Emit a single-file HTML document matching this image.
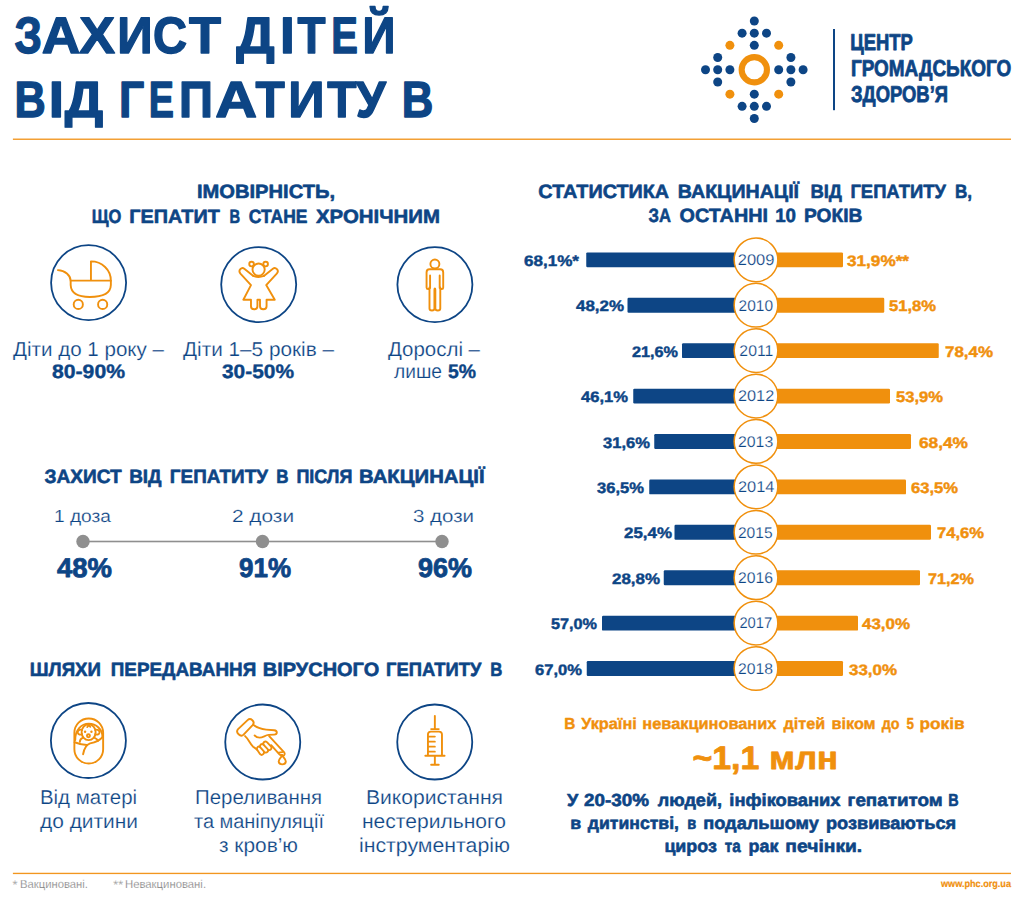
<!DOCTYPE html>
<html lang="uk"><head><meta charset="utf-8"><title>Захист дітей від гепатиту В</title>
<style>
html,body{margin:0;padding:0;background:#fff;}
body{width:1024px;height:897px;overflow:hidden;font-family:"Liberation Sans",sans-serif;}
svg{display:block;}
text{font-family:"Liberation Sans",sans-serif;white-space:pre;text-rendering:geometricPrecision;}
</style></head><body>
<svg width="1024" height="897" viewBox="0 0 1024 897">
<rect width="1024" height="897" fill="#fff"/>
<g id="title">
<text x="14.60" y="53.10" font-size="51.4" font-weight="bold" fill="#0d4585" textLength="27.47" lengthAdjust="spacingAndGlyphs" stroke="#0d4585" stroke-width="1.4" stroke-linejoin="round" id="t0">З</text>
<text x="41.77" y="53.10" font-size="51.4" font-weight="bold" fill="#0d4585" textLength="38.44" lengthAdjust="spacingAndGlyphs" stroke="#0d4585" stroke-width="1.4" stroke-linejoin="round" id="t1">А</text>
<text x="79.20" y="53.10" font-size="51.4" font-weight="bold" fill="#0d4585" textLength="35.81" lengthAdjust="spacingAndGlyphs" stroke="#0d4585" stroke-width="1.4" stroke-linejoin="round" id="t2">Х</text>
<text x="117.23" y="53.10" font-size="51.4" font-weight="bold" fill="#0d4585" textLength="35.38" lengthAdjust="spacingAndGlyphs" stroke="#0d4585" stroke-width="1.4" stroke-linejoin="round" id="t3">И</text>
<text x="152.92" y="53.10" font-size="51.4" font-weight="bold" fill="#0d4585" textLength="34.08" lengthAdjust="spacingAndGlyphs" stroke="#0d4585" stroke-width="1.4" stroke-linejoin="round" id="t4">С</text>
<text x="189.00" y="53.10" font-size="51.4" font-weight="bold" fill="#0d4585" textLength="32.01" lengthAdjust="spacingAndGlyphs" stroke="#0d4585" stroke-width="1.4" stroke-linejoin="round" id="t5">Т</text>
<text x="236.19" y="53.10" font-size="51.4" font-weight="bold" fill="#0d4585" textLength="38.41" lengthAdjust="spacingAndGlyphs" stroke="#0d4585" stroke-width="1.4" stroke-linejoin="round" id="t6">Д</text>
<text x="279.93" y="53.10" font-size="51.4" font-weight="bold" fill="#0d4585" textLength="14.76" lengthAdjust="spacingAndGlyphs" stroke="#0d4585" stroke-width="1.4" stroke-linejoin="round" id="t7">І</text>
<text x="297.39" y="53.10" font-size="51.4" font-weight="bold" fill="#0d4585" textLength="28.03" lengthAdjust="spacingAndGlyphs" stroke="#0d4585" stroke-width="1.4" stroke-linejoin="round" id="t8">Т</text>
<text x="331.19" y="53.10" font-size="51.4" font-weight="bold" fill="#0d4585" textLength="26.65" lengthAdjust="spacingAndGlyphs" stroke="#0d4585" stroke-width="1.4" stroke-linejoin="round" id="t9">Е</text>
<text x="362.41" y="53.10" font-size="51.4" font-weight="bold" fill="#0d4585" textLength="32.91" lengthAdjust="spacingAndGlyphs" stroke="#0d4585" stroke-width="1.4" stroke-linejoin="round" id="t10">Й</text>
<text x="14.39" y="117.20" font-size="51.0" font-weight="bold" fill="#0d4585" textLength="31.27" lengthAdjust="spacingAndGlyphs" stroke="#0d4585" stroke-width="1.4" stroke-linejoin="round" id="t11">В</text>
<text x="48.84" y="117.20" font-size="51.0" font-weight="bold" fill="#0d4585" textLength="15.25" lengthAdjust="spacingAndGlyphs" stroke="#0d4585" stroke-width="1.4" stroke-linejoin="round" id="t12">І</text>
<text x="64.77" y="117.20" font-size="51.0" font-weight="bold" fill="#0d4585" textLength="38.44" lengthAdjust="spacingAndGlyphs" stroke="#0d4585" stroke-width="1.4" stroke-linejoin="round" id="t13">Д</text>
<text x="119.04" y="117.20" font-size="51.0" font-weight="bold" fill="#0d4585" textLength="25.19" lengthAdjust="spacingAndGlyphs" stroke="#0d4585" stroke-width="1.4" stroke-linejoin="round" id="t14">Г</text>
<text x="148.68" y="117.20" font-size="51.0" font-weight="bold" fill="#0d4585" textLength="25.19" lengthAdjust="spacingAndGlyphs" stroke="#0d4585" stroke-width="1.4" stroke-linejoin="round" id="t15">Е</text>
<text x="178.90" y="117.20" font-size="51.0" font-weight="bold" fill="#0d4585" textLength="33.95" lengthAdjust="spacingAndGlyphs" stroke="#0d4585" stroke-width="1.4" stroke-linejoin="round" id="t16">П</text>
<text x="215.19" y="117.20" font-size="51.0" font-weight="bold" fill="#0d4585" textLength="41.85" lengthAdjust="spacingAndGlyphs" stroke="#0d4585" stroke-width="1.4" stroke-linejoin="round" id="t17">А</text>
<text x="255.59" y="117.20" font-size="51.0" font-weight="bold" fill="#0d4585" textLength="29.24" lengthAdjust="spacingAndGlyphs" stroke="#0d4585" stroke-width="1.4" stroke-linejoin="round" id="t18">Т</text>
<text x="288.27" y="117.20" font-size="51.0" font-weight="bold" fill="#0d4585" textLength="36.29" lengthAdjust="spacingAndGlyphs" stroke="#0d4585" stroke-width="1.4" stroke-linejoin="round" id="t19">И</text>
<text x="327.17" y="117.20" font-size="51.0" font-weight="bold" fill="#0d4585" textLength="29.24" lengthAdjust="spacingAndGlyphs" stroke="#0d4585" stroke-width="1.4" stroke-linejoin="round" id="t20">Т</text>
<text x="355.76" y="117.20" font-size="51.0" font-weight="bold" fill="#0d4585" textLength="30.12" lengthAdjust="spacingAndGlyphs" stroke="#0d4585" stroke-width="1.4" stroke-linejoin="round" id="t21">У</text>
<text x="401.77" y="117.20" font-size="51.0" font-weight="bold" fill="#0d4585" textLength="31.60" lengthAdjust="spacingAndGlyphs" stroke="#0d4585" stroke-width="1.4" stroke-linejoin="round" id="t22">В</text>
</g>
<rect x="12.9" y="138.55" width="998.1" height="1.35" fill="#f2961f"/>
<rect x="12.9" y="872.75" width="998.1" height="1.35" fill="#f2961f"/>
<g id="logo">
<circle cx="705.50" cy="69.75" r="4.5" fill="#0d4585"/>
<circle cx="717.70" cy="57.55" r="4.5" fill="#0d4585"/>
<circle cx="717.70" cy="69.75" r="4.5" fill="#0d4585"/>
<circle cx="717.70" cy="81.95" r="4.5" fill="#0d4585"/>
<circle cx="729.90" cy="69.75" r="4.5" fill="#0d4585"/>
<circle cx="742.10" cy="33.15" r="4.5" fill="#0d4585"/>
<circle cx="742.10" cy="106.35" r="4.5" fill="#0d4585"/>
<circle cx="754.30" cy="20.95" r="4.5" fill="#0d4585"/>
<circle cx="754.30" cy="33.15" r="4.5" fill="#0d4585"/>
<circle cx="754.30" cy="45.35" r="4.5" fill="#0d4585"/>
<circle cx="754.30" cy="94.15" r="4.5" fill="#0d4585"/>
<circle cx="754.30" cy="106.35" r="4.5" fill="#0d4585"/>
<circle cx="754.30" cy="118.55" r="4.5" fill="#0d4585"/>
<circle cx="766.50" cy="33.15" r="4.5" fill="#0d4585"/>
<circle cx="766.50" cy="106.35" r="4.5" fill="#0d4585"/>
<circle cx="778.70" cy="69.75" r="4.5" fill="#0d4585"/>
<circle cx="790.90" cy="57.55" r="4.5" fill="#0d4585"/>
<circle cx="790.90" cy="69.75" r="4.5" fill="#0d4585"/>
<circle cx="790.90" cy="81.95" r="4.5" fill="#0d4585"/>
<circle cx="803.10" cy="69.75" r="4.5" fill="#0d4585"/>
<circle cx="729.90" cy="45.35" r="4.5" fill="#f0900d"/>
<circle cx="778.70" cy="45.35" r="4.5" fill="#f0900d"/>
<circle cx="729.90" cy="94.15" r="4.5" fill="#f0900d"/>
<circle cx="778.70" cy="94.15" r="4.5" fill="#f0900d"/>
<circle cx="754.3" cy="69.75" r="12.65" fill="none" stroke="#f0900d" stroke-width="6.1"/>
<rect x="833" y="29" width="2" height="81.2" fill="#0d4585"/>
<text x="850.19" y="50.20" font-size="23.0" font-weight="bold" fill="#0d4585" textLength="62.61" lengthAdjust="spacingAndGlyphs" stroke="#0d4585" stroke-width="0.8" stroke-linejoin="round" id="t23">ЦЕНТР</text>
<text x="851.00" y="75.80" font-size="23.0" font-weight="bold" fill="#0d4585" textLength="160.20" lengthAdjust="spacingAndGlyphs" stroke="#0d4585" stroke-width="0.8" stroke-linejoin="round" id="t24">ГРОМАДСЬКОГО</text>
<text x="851.00" y="102.00" font-size="23.0" font-weight="bold" fill="#0d4585" textLength="97.01" lengthAdjust="spacingAndGlyphs" stroke="#0d4585" stroke-width="0.8" stroke-linejoin="round" id="t25">ЗДОРОВ’Я</text>
</g>
<g id="sec1">
<text x="196.99" y="197.80" font-size="19.3" font-weight="bold" fill="#0d4585" textLength="138.03" lengthAdjust="spacingAndGlyphs" stroke="#0d4585" stroke-width="0.6" stroke-linejoin="round" id="t26">ІМОВІРНІСТЬ,</text>
<text x="91.77" y="222.60" font-size="19.3" font-weight="bold" fill="#0d4585" textLength="29.64" lengthAdjust="spacingAndGlyphs" stroke="#0d4585" stroke-width="0.6" stroke-linejoin="round" id="t27">ЩО</text>
<text x="129.19" y="222.60" font-size="19.3" font-weight="bold" fill="#0d4585" textLength="90.61" lengthAdjust="spacingAndGlyphs" stroke="#0d4585" stroke-width="0.6" stroke-linejoin="round" id="t28">ГЕПАТИТ</text>
<text x="229.59" y="222.60" font-size="19.3" font-weight="bold" fill="#0d4585" textLength="10.63" lengthAdjust="spacingAndGlyphs" stroke="#0d4585" stroke-width="0.6" stroke-linejoin="round" id="t29">В</text>
<text x="248.79" y="222.60" font-size="19.3" font-weight="bold" fill="#0d4585" textLength="58.62" lengthAdjust="spacingAndGlyphs" stroke="#0d4585" stroke-width="0.6" stroke-linejoin="round" id="t30">СТАНЕ</text>
<text x="316.00" y="222.60" font-size="19.3" font-weight="bold" fill="#0d4585" textLength="124.00" lengthAdjust="spacingAndGlyphs" stroke="#0d4585" stroke-width="0.6" stroke-linejoin="round" id="t31">ХРОНІЧНИМ</text>
<circle cx="88.6" cy="282.7" r="37.5" fill="none" stroke="#0d4585" stroke-width="1.8"/>
<circle cx="258.7" cy="284.6" r="37.5" fill="none" stroke="#0d4585" stroke-width="1.8"/>
<circle cx="434.9" cy="284.6" r="37.5" fill="none" stroke="#0d4585" stroke-width="1.8"/>
</g>
<g id="stroller">
<path d="M 57.89,270.08 C 65.16,270.43 70.43,275.12 70.67,280.63 L 70.67,285.08 C 71.02,293.28 78.05,297.03 89.77,297.03 C 102.66,297.03 110.63,293.28 110.86,285.08 L 110.86,280.63" fill="none" stroke="#f0900d" stroke-width="1.9" stroke-linecap="round" stroke-linejoin="round"/>
<path d="M 70.67,280.63 L 110.86,280.63 C 110.86,269.85 102.07,261.41 90.94,261.41 L 90.94,280.63" fill="none" stroke="#f0900d" stroke-width="1.9" stroke-linecap="round" stroke-linejoin="round"/>
<circle cx="78.28" cy="304.42" r="4.6" fill="none" stroke="#f0900d" stroke-width="1.9" stroke-linecap="round" stroke-linejoin="round"/>
<circle cx="102.66" cy="304.42" r="4.6" fill="none" stroke="#f0900d" stroke-width="1.9" stroke-linecap="round" stroke-linejoin="round"/>
</g>
<g id="girl">
<circle cx="258.60" cy="269.61" r="6.1" fill="none" stroke="#f0900d" stroke-width="1.9" stroke-linecap="round" stroke-linejoin="round"/>
<circle cx="251.56" cy="264.10" r="2.3" fill="none" stroke="#f0900d" stroke-width="1.9" stroke-linecap="round" stroke-linejoin="round"/>
<circle cx="265.63" cy="264.10" r="2.3" fill="none" stroke="#f0900d" stroke-width="1.9" stroke-linecap="round" stroke-linejoin="round"/>
<path d="M 253.32,275.94 L 244.30,268.67 C 241.60,266.56 237.74,270.43 240.43,273.60 L 250.98,285.08 L 243.36,299.73 L 250.98,299.73 L 250.98,306.17 C 250.98,310.28 257.42,310.28 257.42,306.17 L 257.42,299.73 L 260.00,299.73 L 260.00,306.17 C 260.00,310.28 266.57,310.28 266.57,306.17 L 266.57,299.73 L 274.77,299.73 L 266.21,285.08 L 276.76,273.60 C 279.69,270.43 275.59,266.56 272.89,268.67 L 263.87,275.94" fill="none" stroke="#f0900d" stroke-width="1.9" stroke-linecap="round" stroke-linejoin="round"/>
<path d="M 253.32,275.94 C 256.25,277.11 260.94,277.11 263.87,275.94" fill="none" stroke="#f0900d" stroke-width="1.9" stroke-linecap="round" stroke-linejoin="round"/>
</g>
<g id="man">
<circle cx="434.89" cy="263.99" r="4.5" fill="none" stroke="#f0900d" stroke-width="1.9" stroke-linecap="round" stroke-linejoin="round"/>
<path d="M 429.49,269.26 L 440.28,269.26 C 442.39,269.26 443.21,270.43 443.21,272.42 L 443.21,287.42 C 443.21,289.53 440.28,289.53 440.28,287.42 L 440.28,308.52 C 440.28,311.10 435.35,311.10 435.35,308.52 L 435.35,289.77 C 435.35,287.89 434.42,287.89 434.42,289.77 L 434.42,308.52 C 434.42,311.10 429.49,311.10 429.49,308.52 L 429.49,287.42 C 429.49,289.53 426.56,289.53 426.56,287.42 L 426.56,272.42 C 426.56,270.43 427.38,269.26 429.49,269.26 Z" fill="none" stroke="#f0900d" stroke-width="1.9" stroke-linecap="round" stroke-linejoin="round"/>
<path d="M 430.08,275.47 L 430.08,288.01 M 439.69,275.47 L 439.69,288.01" fill="none" stroke="#f0900d" stroke-width="1.9" stroke-linecap="round" stroke-linejoin="round"/>
</g>
<g id="sec1labels">
<text x="13.00" y="355.75" font-size="20" font-weight="normal" fill="#0d4585" textLength="151.00" lengthAdjust="spacingAndGlyphs" stroke="#fff" stroke-width="0.2" id="t32">Діти до 1 року –</text>
<text x="52.00" y="377.70" font-size="19.5" font-weight="bold" fill="#0d4585" textLength="73.00" lengthAdjust="spacingAndGlyphs" stroke="#0d4585" stroke-width="0.4" stroke-linejoin="round" id="t33">80-90%</text>
<text x="183.00" y="355.75" font-size="20" font-weight="normal" fill="#0d4585" textLength="151.00" lengthAdjust="spacingAndGlyphs" stroke="#fff" stroke-width="0.2" id="t34">Діти 1–5 років –</text>
<text x="221.99" y="377.70" font-size="19.5" font-weight="bold" fill="#0d4585" textLength="72.02" lengthAdjust="spacingAndGlyphs" stroke="#0d4585" stroke-width="0.4" stroke-linejoin="round" id="t35">30-50%</text>
<text x="387.99" y="355.75" font-size="20" font-weight="normal" fill="#0d4585" textLength="92.02" lengthAdjust="spacingAndGlyphs" stroke="#fff" stroke-width="0.2" id="t36">Дорослі –</text>
<text x="393.98" y="377.60" font-size="20" font-weight="normal" fill="#0d4585" textLength="48.03" lengthAdjust="spacingAndGlyphs" stroke="#fff" stroke-width="0.2" id="t37">лише</text>
<text x="448.00" y="377.70" font-size="19.5" font-weight="bold" fill="#0d4585" textLength="28.01" lengthAdjust="spacingAndGlyphs" stroke="#0d4585" stroke-width="0.4" stroke-linejoin="round" id="t38">5%</text>
</g>
<g id="sec2">
<text x="44.60" y="482.70" font-size="19.3" font-weight="bold" fill="#0d4585" textLength="77.20" lengthAdjust="spacingAndGlyphs" stroke="#0d4585" stroke-width="0.6" stroke-linejoin="round" id="t39">ЗАХИСТ</text>
<text x="129.20" y="482.70" font-size="19.3" font-weight="bold" fill="#0d4585" textLength="32.41" lengthAdjust="spacingAndGlyphs" stroke="#0d4585" stroke-width="0.6" stroke-linejoin="round" id="t40">ВІД</text>
<text x="169.79" y="482.70" font-size="19.3" font-weight="bold" fill="#0d4585" textLength="98.22" lengthAdjust="spacingAndGlyphs" stroke="#0d4585" stroke-width="0.6" stroke-linejoin="round" id="t41">ГЕПАТИТУ</text>
<text x="276.17" y="482.70" font-size="19.3" font-weight="bold" fill="#0d4585" textLength="12.25" lengthAdjust="spacingAndGlyphs" stroke="#0d4585" stroke-width="0.6" stroke-linejoin="round" id="t42">В</text>
<text x="296.38" y="482.70" font-size="19.3" font-weight="bold" fill="#0d4585" textLength="56.05" lengthAdjust="spacingAndGlyphs" stroke="#0d4585" stroke-width="0.6" stroke-linejoin="round" id="t43">ПІСЛЯ</text>
<text x="359.00" y="482.70" font-size="19.3" font-weight="bold" fill="#0d4585" textLength="125.60" lengthAdjust="spacingAndGlyphs" stroke="#0d4585" stroke-width="0.6" stroke-linejoin="round" id="t44">ВАКЦИНАЦІЇ</text>
<rect x="83" y="540.7" width="359" height="1.6" fill="#8f8f8f"/>
<circle cx="83" cy="541.5" r="6.7" fill="#8f8f8f"/>
<circle cx="262.5" cy="541.5" r="6.7" fill="#8f8f8f"/>
<circle cx="442" cy="541.5" r="6.7" fill="#8f8f8f"/>
<text x="53.98" y="521.70" font-size="17.5" font-weight="normal" fill="#0d4585" textLength="57.02" lengthAdjust="spacingAndGlyphs" stroke="#fff" stroke-width="0.2" id="t45">1 доза</text>
<text x="231.96" y="521.70" font-size="17.5" font-weight="normal" fill="#0d4585" textLength="62.11" lengthAdjust="spacingAndGlyphs" stroke="#fff" stroke-width="0.2" id="t46">2 дози</text>
<text x="412.98" y="521.70" font-size="17.5" font-weight="normal" fill="#0d4585" textLength="61.08" lengthAdjust="spacingAndGlyphs" stroke="#fff" stroke-width="0.2" id="t47">3 дози</text>
<text x="57.00" y="577.00" font-size="27" font-weight="bold" fill="#0d4585" textLength="55.01" lengthAdjust="spacingAndGlyphs" stroke="#0d4585" stroke-width="0.8" stroke-linejoin="round" id="t48">48%</text>
<text x="238.99" y="577.00" font-size="27" font-weight="bold" fill="#0d4585" textLength="52.03" lengthAdjust="spacingAndGlyphs" stroke="#0d4585" stroke-width="0.8" stroke-linejoin="round" id="t49">91%</text>
<text x="417.99" y="577.00" font-size="27" font-weight="bold" fill="#0d4585" textLength="54.01" lengthAdjust="spacingAndGlyphs" stroke="#0d4585" stroke-width="0.8" stroke-linejoin="round" id="t50">96%</text>
</g>
<g id="sec3">
<text x="29.79" y="676.30" font-size="19.3" font-weight="bold" fill="#0d4585" textLength="71.22" lengthAdjust="spacingAndGlyphs" stroke="#0d4585" stroke-width="0.6" stroke-linejoin="round" id="t51">ШЛЯХИ</text>
<text x="110.79" y="676.30" font-size="19.3" font-weight="bold" fill="#0d4585" textLength="145.41" lengthAdjust="spacingAndGlyphs" stroke="#0d4585" stroke-width="0.6" stroke-linejoin="round" id="t52">ПЕРЕДАВАННЯ</text>
<text x="262.79" y="676.30" font-size="19.3" font-weight="bold" fill="#0d4585" textLength="116.41" lengthAdjust="spacingAndGlyphs" stroke="#0d4585" stroke-width="0.6" stroke-linejoin="round" id="t53">ВІРУСНОГО</text>
<text x="386.00" y="676.30" font-size="19.3" font-weight="bold" fill="#0d4585" textLength="95.40" lengthAdjust="spacingAndGlyphs" stroke="#0d4585" stroke-width="0.6" stroke-linejoin="round" id="t54">ГЕПАТИТУ</text>
<text x="490.32" y="676.30" font-size="19.3" font-weight="bold" fill="#0d4585" textLength="12.10" lengthAdjust="spacingAndGlyphs" stroke="#0d4585" stroke-width="0.6" stroke-linejoin="round" id="t55">В</text>
<circle cx="88.4" cy="740.5" r="37.5" fill="none" stroke="#0d4585" stroke-width="1.8"/>
<circle cx="262.75" cy="742.0" r="37.5" fill="none" stroke="#0d4585" stroke-width="1.8"/>
<circle cx="434.75" cy="742.0" r="37.5" fill="none" stroke="#0d4585" stroke-width="1.8"/>
</g>
<g id="baby">
<path d="M 74.38,732.81 C 74.38,724.85 80.80,718.43 88.76,718.43 C 96.72,718.43 103.14,724.85 103.14,732.81 L 103.14,749.13 C 103.14,757.09 96.72,763.51 88.76,763.51 C 80.80,763.51 74.38,757.09 74.38,749.13 Z" fill="none" stroke="#f0900d" stroke-width="1.9" stroke-linecap="round" stroke-linejoin="round"/>
<path d="M 75.25,739.97 C 75.12,730.07 81.27,723.65 88.76,723.65 C 96.25,723.65 102.54,729.53 102.54,736.89" fill="none" stroke="#f0900d" stroke-width="1.9" stroke-linecap="round" stroke-linejoin="round"/>
<ellipse cx="88.63" cy="732.21" rx="7.0" ry="7.9" fill="none" stroke="#f0900d" stroke-width="1.9" stroke-linecap="round" stroke-linejoin="round"/>
<path d="M 82.07,730.07 C 80.07,729.00 77.26,730.33 77.73,732.61 C 78.13,734.62 80.40,735.02 82.07,734.21" fill="none" stroke="#f0900d" stroke-width="1.9" stroke-linecap="round" stroke-linejoin="round"/>
<path d="M 95.18,730.07 C 97.19,729.00 100.00,730.33 99.53,732.61 C 99.13,734.62 96.86,735.02 95.18,734.21" fill="none" stroke="#f0900d" stroke-width="1.9" stroke-linecap="round" stroke-linejoin="round"/>
<circle cx="85.08" cy="731.81" r="1.2" fill="#f0900d"/>
<circle cx="91.44" cy="731.81" r="1.2" fill="#f0900d"/>
<circle cx="88.43" cy="735.82" r="1.5" fill="none" stroke="#f0900d" stroke-width="1.9" stroke-linecap="round" stroke-linejoin="round"/>
<path d="M 87.29,727.12 C 87.69,725.52 89.83,725.25 90.23,726.86" fill="none" stroke="#f0900d" stroke-width="1.9" stroke-linecap="round" stroke-linejoin="round"/>
<path d="M 79.80,741.84 C 79.93,739.83 81.00,738.63 82.74,737.96" fill="none" stroke="#f0900d" stroke-width="1.9" stroke-linecap="round" stroke-linejoin="round"/>
<path d="M 94.65,737.96 C 96.39,738.63 97.46,739.57 97.99,740.77" fill="none" stroke="#f0900d" stroke-width="1.9" stroke-linecap="round" stroke-linejoin="round"/>
<path d="M 74.58,742.24 C 79.40,744.11 83.41,744.92 86.89,745.05" fill="none" stroke="#f0900d" stroke-width="1.9" stroke-linecap="round" stroke-linejoin="round"/>
<path d="M 102.94,736.62 C 100.13,740.10 95.45,742.44 90.10,743.44 C 86.76,744.45 84.08,748.80 83.08,754.28" fill="none" stroke="#f0900d" stroke-width="1.9" stroke-linecap="round" stroke-linejoin="round"/>
</g>
<g id="hand">
<path d="M 238.08,729.10 L 247.60,720.08 C 250.61,717.27 255.63,721.58 252.62,725.09 L 243.59,734.62 C 240.58,737.63 235.07,732.61 238.08,729.10 Z" fill="none" stroke="#f0900d" stroke-width="1.9" stroke-linecap="round" stroke-linejoin="round"/>
<path d="M 253.62,725.09 C 257.13,728.10 261.14,729.10 266.16,729.60 L 274.18,730.31 C 277.69,730.61 277.69,734.62 274.18,734.62 L 268.67,734.92 C 265.16,735.12 263.15,737.63 259.64,737.63 C 257.13,737.63 255.63,736.62 254.62,735.42" fill="none" stroke="#f0900d" stroke-width="1.9" stroke-linecap="round" stroke-linejoin="round"/>
<path d="M 269.17,736.12 L 284.41,752.67 C 285.72,754.68 283.21,756.69 281.71,755.18" fill="none" stroke="#f0900d" stroke-width="1.9" stroke-linecap="round" stroke-linejoin="round"/>
<path d="M 271.17,745.15 L 279.20,754.18 C 280.00,755.18 281.20,755.38 282.21,754.98" fill="none" stroke="#f0900d" stroke-width="1.9" stroke-linecap="round" stroke-linejoin="round"/>
<path d="M 278.70,752.67 L 282.21,752.17" fill="none" stroke="#f0900d" stroke-width="1.9" stroke-linecap="round" stroke-linejoin="round"/>
<path d="M 245.10,736.12 C 248.61,739.13 250.11,744.15 253.12,746.65 L 257.13,749.66" fill="none" stroke="#f0900d" stroke-width="1.9" stroke-linecap="round" stroke-linejoin="round"/>
<path d="M 257.13,749.66 C 256.13,747.16 258.64,745.65 260.14,747.16 L 263.65,751.17 C 265.16,753.17 262.15,756.18 260.14,754.18 Z" fill="none" stroke="#f0900d" stroke-width="1.9" stroke-linecap="round" stroke-linejoin="round"/>
<path d="M 260.14,747.16 C 259.34,744.65 261.95,743.14 263.45,744.65 L 267.66,749.16 C 269.17,751.17 266.66,753.17 264.96,752.37" fill="none" stroke="#f0900d" stroke-width="1.9" stroke-linecap="round" stroke-linejoin="round"/>
<path d="M 263.45,744.65 C 262.65,742.14 265.16,740.64 266.96,742.14 L 271.17,746.65 C 272.38,748.66 270.17,750.67 268.47,749.96" fill="none" stroke="#f0900d" stroke-width="1.9" stroke-linecap="round" stroke-linejoin="round"/>
<path d="M 282.21,755.68 C 280.20,758.19 278.40,759.69 278.70,761.70 C 279.20,765.21 285.42,765.21 285.82,761.70 C 286.02,759.69 284.21,758.19 282.21,755.68 Z" fill="none" stroke="#f0900d" stroke-width="1.9" stroke-linecap="round" stroke-linejoin="round"/>
</g>
<g id="syringe">
<path d="M 434.85,715.86 L 434.85,729.10 M 431.14,729.10 L 438.76,729.10 M 427.93,755.68 L 427.93,734.62 C 427.93,732.31 429.13,731.61 430.94,731.61 L 438.96,731.61 C 440.77,731.61 441.97,732.31 441.97,734.62 L 441.97,755.68 M 425.32,755.68 L 444.58,755.68 M 434.85,755.68 L 434.85,764.71 M 431.14,764.71 L 438.76,764.71 M 427.93,736.62 L 434.85,736.62 M 427.93,741.64 L 434.85,741.64 M 427.93,746.65 L 434.85,746.65 M 427.93,751.67 L 434.85,751.67" fill="none" stroke="#f0900d" stroke-width="1.9" stroke-linecap="round" stroke-linejoin="round"/>
</g>
<g id="sec3labels">
<text x="39.96" y="804.10" font-size="20" font-weight="normal" fill="#0d4585" textLength="97.08" lengthAdjust="spacingAndGlyphs" stroke="#fff" stroke-width="0.2" id="t56">Від матері</text>
<text x="40.00" y="827.90" font-size="20" font-weight="normal" fill="#0d4585" textLength="98.01" lengthAdjust="spacingAndGlyphs" stroke="#fff" stroke-width="0.2" id="t57">до дитини</text>
<text x="194.98" y="804.10" font-size="20" font-weight="normal" fill="#0d4585" textLength="127.05" lengthAdjust="spacingAndGlyphs" stroke="#fff" stroke-width="0.2" id="t58">Переливання</text>
<text x="193.99" y="827.90" font-size="20" font-weight="normal" fill="#0d4585" textLength="130.01" lengthAdjust="spacingAndGlyphs" stroke="#fff" stroke-width="0.2" id="t59">та маніпуляції</text>
<text x="218.99" y="851.80" font-size="20" font-weight="normal" fill="#0d4585" textLength="79.03" lengthAdjust="spacingAndGlyphs" stroke="#fff" stroke-width="0.2" id="t60">з кров’ю</text>
<text x="365.95" y="804.10" font-size="20" font-weight="normal" fill="#0d4585" textLength="137.07" lengthAdjust="spacingAndGlyphs" stroke="#fff" stroke-width="0.2" id="t61">Використання</text>
<text x="361.98" y="827.90" font-size="20" font-weight="normal" fill="#0d4585" textLength="144.03" lengthAdjust="spacingAndGlyphs" stroke="#fff" stroke-width="0.2" id="t62">нестерильного</text>
<text x="358.98" y="851.80" font-size="20" font-weight="normal" fill="#0d4585" textLength="151.03" lengthAdjust="spacingAndGlyphs" stroke="#fff" stroke-width="0.2" id="t63">інструментарію</text>
</g>
<g id="footer">
<text x="12.60" y="888.60" font-size="12.5" font-weight="normal" fill="#808080" textLength="5.00" lengthAdjust="spacingAndGlyphs" stroke="#fff" stroke-width="0.2" id="t64">*</text>
<text x="19.98" y="888.00" font-size="11.5" font-weight="normal" fill="#808080" textLength="68.04" lengthAdjust="spacingAndGlyphs" stroke="#fff" stroke-width="0.2" id="t65">Вакциновані.</text>
<text x="113.30" y="888.60" font-size="12.5" font-weight="normal" fill="#808080" textLength="9.70" lengthAdjust="spacingAndGlyphs" stroke="#fff" stroke-width="0.2" id="t66">**</text>
<text x="124.97" y="888.00" font-size="11.5" font-weight="normal" fill="#808080" textLength="81.06" lengthAdjust="spacingAndGlyphs" stroke="#fff" stroke-width="0.2" id="t67">Невакциновані.</text>
<text x="940.99" y="887.00" font-size="10" font-weight="bold" fill="#f0900d" textLength="70.01" lengthAdjust="spacingAndGlyphs" stroke="#f0900d" stroke-width="0.2" stroke-linejoin="round" id="t68">www.phc.org.ua</text>
</g>
<g id="chart">
<text x="538.39" y="198.20" font-size="19.3" font-weight="bold" fill="#0d4585" textLength="130.81" lengthAdjust="spacingAndGlyphs" stroke="#0d4585" stroke-width="0.6" stroke-linejoin="round" id="t69">СТАТИСТИКА</text>
<text x="677.81" y="198.20" font-size="19.3" font-weight="bold" fill="#0d4585" textLength="121.21" lengthAdjust="spacingAndGlyphs" stroke="#0d4585" stroke-width="0.6" stroke-linejoin="round" id="t70">ВАКЦИНАЦІЇ</text>
<text x="810.38" y="198.20" font-size="19.3" font-weight="bold" fill="#0d4585" textLength="31.63" lengthAdjust="spacingAndGlyphs" stroke="#0d4585" stroke-width="0.6" stroke-linejoin="round" id="t71">ВІД</text>
<text x="850.40" y="198.20" font-size="19.3" font-weight="bold" fill="#0d4585" textLength="95.60" lengthAdjust="spacingAndGlyphs" stroke="#0d4585" stroke-width="0.6" stroke-linejoin="round" id="t72">ГЕПАТИТУ</text>
<text x="954.97" y="198.20" font-size="19.3" font-weight="bold" fill="#0d4585" textLength="17.07" lengthAdjust="spacingAndGlyphs" stroke="#0d4585" stroke-width="0.6" stroke-linejoin="round" id="t73">В,</text>
<text x="648.59" y="222.30" font-size="19.3" font-weight="bold" fill="#0d4585" textLength="22.43" lengthAdjust="spacingAndGlyphs" stroke="#0d4585" stroke-width="0.6" stroke-linejoin="round" id="t74">ЗА</text>
<text x="679.59" y="222.30" font-size="19.3" font-weight="bold" fill="#0d4585" textLength="88.41" lengthAdjust="spacingAndGlyphs" stroke="#0d4585" stroke-width="0.6" stroke-linejoin="round" id="t75">ОСТАННІ</text>
<text x="775.19" y="222.30" font-size="19.3" font-weight="bold" fill="#0d4585" textLength="20.81" lengthAdjust="spacingAndGlyphs" stroke="#0d4585" stroke-width="0.6" stroke-linejoin="round" id="t76">10</text>
<text x="803.99" y="222.30" font-size="19.3" font-weight="bold" fill="#0d4585" textLength="58.41" lengthAdjust="spacingAndGlyphs" stroke="#0d4585" stroke-width="0.6" stroke-linejoin="round" id="t77">РОКІВ</text>
<rect x="586.25" y="252.40" width="169.75" height="14.9" rx="1.2" fill="#0d4585"/>
<rect x="756.0" y="252.40" width="87.00" height="14.9" rx="1.2" fill="#f0900d"/>
<rect x="627.5" y="297.81" width="128.50" height="14.9" rx="1.2" fill="#0d4585"/>
<rect x="756.0" y="297.81" width="128.25" height="14.9" rx="1.2" fill="#f0900d"/>
<rect x="682" y="343.22" width="74.00" height="14.9" rx="1.2" fill="#0d4585"/>
<rect x="756.0" y="343.22" width="182.75" height="14.9" rx="1.2" fill="#f0900d"/>
<rect x="633.25" y="388.63" width="122.75" height="14.9" rx="1.2" fill="#0d4585"/>
<rect x="756.0" y="388.63" width="134.00" height="14.9" rx="1.2" fill="#f0900d"/>
<rect x="654.25" y="434.04" width="101.75" height="14.9" rx="1.2" fill="#0d4585"/>
<rect x="756.0" y="434.04" width="155.00" height="14.9" rx="1.2" fill="#f0900d"/>
<rect x="649.25" y="479.45" width="106.75" height="14.9" rx="1.2" fill="#0d4585"/>
<rect x="756.0" y="479.45" width="150.00" height="14.9" rx="1.2" fill="#f0900d"/>
<rect x="674.5" y="524.86" width="81.50" height="14.9" rx="1.2" fill="#0d4585"/>
<rect x="756.0" y="524.86" width="175.00" height="14.9" rx="1.2" fill="#f0900d"/>
<rect x="663.75" y="570.27" width="92.25" height="14.9" rx="1.2" fill="#0d4585"/>
<rect x="756.0" y="570.27" width="164.00" height="14.9" rx="1.2" fill="#f0900d"/>
<rect x="602" y="615.68" width="154.00" height="14.9" rx="1.2" fill="#0d4585"/>
<rect x="756.0" y="615.68" width="102.00" height="14.9" rx="1.2" fill="#f0900d"/>
<rect x="586.75" y="661.09" width="169.25" height="14.9" rx="1.2" fill="#0d4585"/>
<rect x="756.0" y="661.09" width="87.00" height="14.9" rx="1.2" fill="#f0900d"/>
<circle cx="756.0" cy="259.80" r="21.85" fill="#fff" stroke="#f0900d" stroke-width="1.5"/>
<text x="737.77" y="264.50" font-size="15.5" font-weight="normal" fill="#0d4585" textLength="36.68" lengthAdjust="spacingAndGlyphs" stroke="#fff" stroke-width="0.2" id="t78">2009</text>
<text x="523.99" y="265.90" font-size="15.2" font-weight="bold" fill="#0d4585" textLength="55.02" lengthAdjust="spacingAndGlyphs" stroke="#0d4585" stroke-width="0.45" stroke-linejoin="round" id="t79">68,1%*</text>
<text x="847.00" y="265.90" font-size="15.2" font-weight="bold" fill="#f0900d" textLength="62.01" lengthAdjust="spacingAndGlyphs" stroke="#f0900d" stroke-width="0.45" stroke-linejoin="round" id="t80">31,9%**</text>
<circle cx="756.0" cy="305.21" r="21.85" fill="#fff" stroke="#f0900d" stroke-width="1.5"/>
<text x="738.57" y="310.61" font-size="15.5" font-weight="normal" fill="#0d4585" textLength="34.43" lengthAdjust="spacingAndGlyphs" stroke="#fff" stroke-width="0.2" id="t81">2010</text>
<text x="575.99" y="311.31" font-size="15.2" font-weight="bold" fill="#0d4585" textLength="48.01" lengthAdjust="spacingAndGlyphs" stroke="#0d4585" stroke-width="0.45" stroke-linejoin="round" id="t82">48,2%</text>
<text x="888.98" y="311.31" font-size="15.2" font-weight="bold" fill="#f0900d" textLength="47.03" lengthAdjust="spacingAndGlyphs" stroke="#f0900d" stroke-width="0.45" stroke-linejoin="round" id="t83">51,8%</text>
<circle cx="756.0" cy="350.62" r="21.85" fill="#fff" stroke="#f0900d" stroke-width="1.5"/>
<text x="739.39" y="356.02" font-size="15.5" font-weight="normal" fill="#0d4585" textLength="34.03" lengthAdjust="spacingAndGlyphs" stroke="#fff" stroke-width="0.2" id="t84">2011</text>
<text x="631.99" y="356.72" font-size="15.2" font-weight="bold" fill="#0d4585" textLength="46.01" lengthAdjust="spacingAndGlyphs" stroke="#0d4585" stroke-width="0.45" stroke-linejoin="round" id="t85">21,6%</text>
<text x="945.00" y="356.72" font-size="15.2" font-weight="bold" fill="#f0900d" textLength="48.01" lengthAdjust="spacingAndGlyphs" stroke="#f0900d" stroke-width="0.45" stroke-linejoin="round" id="t86">78,4%</text>
<circle cx="756.0" cy="396.03" r="21.85" fill="#fff" stroke="#f0900d" stroke-width="1.5"/>
<text x="737.94" y="401.43" font-size="15.5" font-weight="normal" fill="#0d4585" textLength="36.28" lengthAdjust="spacingAndGlyphs" stroke="#fff" stroke-width="0.2" id="t87">2012</text>
<text x="580.99" y="402.13" font-size="15.2" font-weight="bold" fill="#0d4585" textLength="47.01" lengthAdjust="spacingAndGlyphs" stroke="#0d4585" stroke-width="0.45" stroke-linejoin="round" id="t88">46,1%</text>
<text x="896.00" y="402.13" font-size="15.2" font-weight="bold" fill="#f0900d" textLength="47.01" lengthAdjust="spacingAndGlyphs" stroke="#f0900d" stroke-width="0.45" stroke-linejoin="round" id="t89">53,9%</text>
<circle cx="756.0" cy="441.44" r="21.85" fill="#fff" stroke="#f0900d" stroke-width="1.5"/>
<text x="737.97" y="446.84" font-size="15.5" font-weight="normal" fill="#0d4585" textLength="35.25" lengthAdjust="spacingAndGlyphs" stroke="#fff" stroke-width="0.2" id="t90">2013</text>
<text x="602.99" y="447.54" font-size="15.2" font-weight="bold" fill="#0d4585" textLength="47.01" lengthAdjust="spacingAndGlyphs" stroke="#0d4585" stroke-width="0.45" stroke-linejoin="round" id="t91">31,6%</text>
<text x="918.99" y="447.54" font-size="15.2" font-weight="bold" fill="#f0900d" textLength="49.01" lengthAdjust="spacingAndGlyphs" stroke="#f0900d" stroke-width="0.45" stroke-linejoin="round" id="t92">68,4%</text>
<circle cx="756.0" cy="486.85" r="21.85" fill="#fff" stroke="#f0900d" stroke-width="1.5"/>
<text x="737.95" y="492.25" font-size="15.5" font-weight="normal" fill="#0d4585" textLength="36.50" lengthAdjust="spacingAndGlyphs" stroke="#fff" stroke-width="0.2" id="t93">2014</text>
<text x="597.00" y="492.95" font-size="15.2" font-weight="bold" fill="#0d4585" textLength="47.01" lengthAdjust="spacingAndGlyphs" stroke="#0d4585" stroke-width="0.45" stroke-linejoin="round" id="t94">36,5%</text>
<text x="911.00" y="492.95" font-size="15.2" font-weight="bold" fill="#f0900d" textLength="47.00" lengthAdjust="spacingAndGlyphs" stroke="#f0900d" stroke-width="0.45" stroke-linejoin="round" id="t95">63,5%</text>
<circle cx="756.0" cy="532.26" r="21.85" fill="#fff" stroke="#f0900d" stroke-width="1.5"/>
<text x="737.96" y="537.66" font-size="15.5" font-weight="normal" fill="#0d4585" textLength="34.66" lengthAdjust="spacingAndGlyphs" stroke="#fff" stroke-width="0.2" id="t96">2015</text>
<text x="624.00" y="538.36" font-size="15.2" font-weight="bold" fill="#0d4585" textLength="48.00" lengthAdjust="spacingAndGlyphs" stroke="#0d4585" stroke-width="0.45" stroke-linejoin="round" id="t97">25,4%</text>
<text x="937.00" y="538.36" font-size="15.2" font-weight="bold" fill="#f0900d" textLength="47.01" lengthAdjust="spacingAndGlyphs" stroke="#f0900d" stroke-width="0.45" stroke-linejoin="round" id="t98">74,6%</text>
<circle cx="756.0" cy="577.67" r="21.85" fill="#fff" stroke="#f0900d" stroke-width="1.5"/>
<text x="737.97" y="583.07" font-size="15.5" font-weight="normal" fill="#0d4585" textLength="35.03" lengthAdjust="spacingAndGlyphs" stroke="#fff" stroke-width="0.2" id="t99">2016</text>
<text x="611.99" y="583.77" font-size="15.2" font-weight="bold" fill="#0d4585" textLength="48.01" lengthAdjust="spacingAndGlyphs" stroke="#0d4585" stroke-width="0.45" stroke-linejoin="round" id="t100">28,8%</text>
<text x="928.00" y="583.77" font-size="15.2" font-weight="bold" fill="#f0900d" textLength="46.01" lengthAdjust="spacingAndGlyphs" stroke="#f0900d" stroke-width="0.45" stroke-linejoin="round" id="t101">71,2%</text>
<circle cx="756.0" cy="623.08" r="21.85" fill="#fff" stroke="#f0900d" stroke-width="1.5"/>
<text x="739.38" y="628.48" font-size="15.5" font-weight="normal" fill="#0d4585" textLength="32.84" lengthAdjust="spacingAndGlyphs" stroke="#fff" stroke-width="0.2" id="t102">2017</text>
<text x="550.99" y="629.18" font-size="15.2" font-weight="bold" fill="#0d4585" textLength="46.01" lengthAdjust="spacingAndGlyphs" stroke="#0d4585" stroke-width="0.45" stroke-linejoin="round" id="t103">57,0%</text>
<text x="862.00" y="629.18" font-size="15.2" font-weight="bold" fill="#f0900d" textLength="48.02" lengthAdjust="spacingAndGlyphs" stroke="#f0900d" stroke-width="0.45" stroke-linejoin="round" id="t104">43,0%</text>
<circle cx="756.0" cy="668.49" r="21.85" fill="#fff" stroke="#f0900d" stroke-width="1.5"/>
<text x="737.97" y="673.89" font-size="15.5" font-weight="normal" fill="#0d4585" textLength="35.03" lengthAdjust="spacingAndGlyphs" stroke="#fff" stroke-width="0.2" id="t105">2018</text>
<text x="534.99" y="674.59" font-size="15.2" font-weight="bold" fill="#0d4585" textLength="47.01" lengthAdjust="spacingAndGlyphs" stroke="#0d4585" stroke-width="0.45" stroke-linejoin="round" id="t106">67,0%</text>
<text x="849.00" y="674.59" font-size="15.2" font-weight="bold" fill="#f0900d" textLength="48.02" lengthAdjust="spacingAndGlyphs" stroke="#f0900d" stroke-width="0.45" stroke-linejoin="round" id="t107">33,0%</text>
</g>
<g id="note">
<text x="564.18" y="728.50" font-size="16" font-weight="bold" fill="#f0900d" textLength="11.11" lengthAdjust="spacingAndGlyphs" stroke="#f0900d" stroke-width="0.4" stroke-linejoin="round" id="t108">В</text>
<text x="581.21" y="728.50" font-size="16" font-weight="bold" fill="#f0900d" textLength="55.61" lengthAdjust="spacingAndGlyphs" stroke="#f0900d" stroke-width="0.4" stroke-linejoin="round" id="t109">Україні</text>
<text x="642.39" y="728.50" font-size="16" font-weight="bold" fill="#f0900d" textLength="134.01" lengthAdjust="spacingAndGlyphs" stroke="#f0900d" stroke-width="0.4" stroke-linejoin="round" id="t110">невакцинованих</text>
<text x="783.58" y="728.50" font-size="16" font-weight="bold" fill="#f0900d" textLength="41.63" lengthAdjust="spacingAndGlyphs" stroke="#f0900d" stroke-width="0.4" stroke-linejoin="round" id="t111">дітей</text>
<text x="831.55" y="728.50" font-size="16" font-weight="bold" fill="#f0900d" textLength="44.07" lengthAdjust="spacingAndGlyphs" stroke="#f0900d" stroke-width="0.4" stroke-linejoin="round" id="t112">віком</text>
<text x="881.80" y="728.50" font-size="16" font-weight="bold" fill="#f0900d" textLength="17.82" lengthAdjust="spacingAndGlyphs" stroke="#f0900d" stroke-width="0.4" stroke-linejoin="round" id="t113">до</text>
<text x="906.55" y="728.50" font-size="16" font-weight="bold" fill="#f0900d" textLength="7.45" lengthAdjust="spacingAndGlyphs" stroke="#f0900d" stroke-width="0.4" stroke-linejoin="round" id="t114">5</text>
<text x="919.59" y="728.50" font-size="16" font-weight="bold" fill="#f0900d" textLength="45.02" lengthAdjust="spacingAndGlyphs" stroke="#f0900d" stroke-width="0.4" stroke-linejoin="round" id="t115">років</text>
<text x="692.40" y="769.00" font-size="32.6" font-weight="bold" fill="#f0900d" textLength="67.02" lengthAdjust="spacingAndGlyphs" stroke="#f0900d" stroke-width="0.8" stroke-linejoin="round" id="t116">~1,1</text>
<text x="769.29" y="769.00" font-size="32.6" font-weight="bold" fill="#f0900d" textLength="68.63" lengthAdjust="spacingAndGlyphs" stroke="#f0900d" stroke-width="0.8" stroke-linejoin="round" id="t117">млн</text>
<text x="567.14" y="806.30" font-size="17.5" font-weight="bold" fill="#0d4585" textLength="11.30" lengthAdjust="spacingAndGlyphs" stroke="#0d4585" stroke-width="0.6" stroke-linejoin="round" id="t118">У</text>
<text x="584.00" y="806.30" font-size="17.5" font-weight="bold" fill="#0d4585" textLength="65.01" lengthAdjust="spacingAndGlyphs" stroke="#0d4585" stroke-width="0.6" stroke-linejoin="round" id="t119">20-30%</text>
<text x="657.80" y="806.30" font-size="17.5" font-weight="bold" fill="#0d4585" textLength="64.21" lengthAdjust="spacingAndGlyphs" stroke="#0d4585" stroke-width="0.6" stroke-linejoin="round" id="t120">людей,</text>
<text x="729.39" y="806.30" font-size="17.5" font-weight="bold" fill="#0d4585" textLength="111.20" lengthAdjust="spacingAndGlyphs" stroke="#0d4585" stroke-width="0.6" stroke-linejoin="round" id="t121">інфікованих</text>
<text x="847.59" y="806.30" font-size="17.5" font-weight="bold" fill="#0d4585" textLength="95.03" lengthAdjust="spacingAndGlyphs" stroke="#0d4585" stroke-width="0.6" stroke-linejoin="round" id="t122">гепатитом</text>
<text x="948.19" y="806.30" font-size="17.5" font-weight="bold" fill="#0d4585" textLength="10.41" lengthAdjust="spacingAndGlyphs" stroke="#0d4585" stroke-width="0.6" stroke-linejoin="round" id="t123">В</text>
<text x="570.30" y="829.20" font-size="17.5" font-weight="bold" fill="#0d4585" textLength="10.93" lengthAdjust="spacingAndGlyphs" stroke="#0d4585" stroke-width="0.6" stroke-linejoin="round" id="t124">в</text>
<text x="587.80" y="829.20" font-size="17.5" font-weight="bold" fill="#0d4585" textLength="91.20" lengthAdjust="spacingAndGlyphs" stroke="#0d4585" stroke-width="0.6" stroke-linejoin="round" id="t125">дитинстві,</text>
<text x="687.20" y="829.20" font-size="17.5" font-weight="bold" fill="#0d4585" textLength="9.00" lengthAdjust="spacingAndGlyphs" stroke="#0d4585" stroke-width="0.6" stroke-linejoin="round" id="t126">в</text>
<text x="703.19" y="829.20" font-size="17.5" font-weight="bold" fill="#0d4585" textLength="115.81" lengthAdjust="spacingAndGlyphs" stroke="#0d4585" stroke-width="0.6" stroke-linejoin="round" id="t127">подальшому</text>
<text x="825.99" y="829.20" font-size="17.5" font-weight="bold" fill="#0d4585" textLength="130.22" lengthAdjust="spacingAndGlyphs" stroke="#0d4585" stroke-width="0.6" stroke-linejoin="round" id="t128">розвиваються</text>
<text x="664.40" y="851.50" font-size="17.5" font-weight="bold" fill="#0d4585" textLength="52.41" lengthAdjust="spacingAndGlyphs" stroke="#0d4585" stroke-width="0.6" stroke-linejoin="round" id="t129">цироз</text>
<text x="724.80" y="851.50" font-size="17.5" font-weight="bold" fill="#0d4585" textLength="15.89" lengthAdjust="spacingAndGlyphs" stroke="#0d4585" stroke-width="0.6" stroke-linejoin="round" id="t130">та</text>
<text x="748.57" y="851.50" font-size="17.5" font-weight="bold" fill="#0d4585" textLength="29.84" lengthAdjust="spacingAndGlyphs" stroke="#0d4585" stroke-width="0.6" stroke-linejoin="round" id="t131">рак</text>
<text x="785.38" y="851.50" font-size="17.5" font-weight="bold" fill="#0d4585" textLength="76.83" lengthAdjust="spacingAndGlyphs" stroke="#0d4585" stroke-width="0.6" stroke-linejoin="round" id="t132">печінки.</text>
</g>
</svg></body></html>
